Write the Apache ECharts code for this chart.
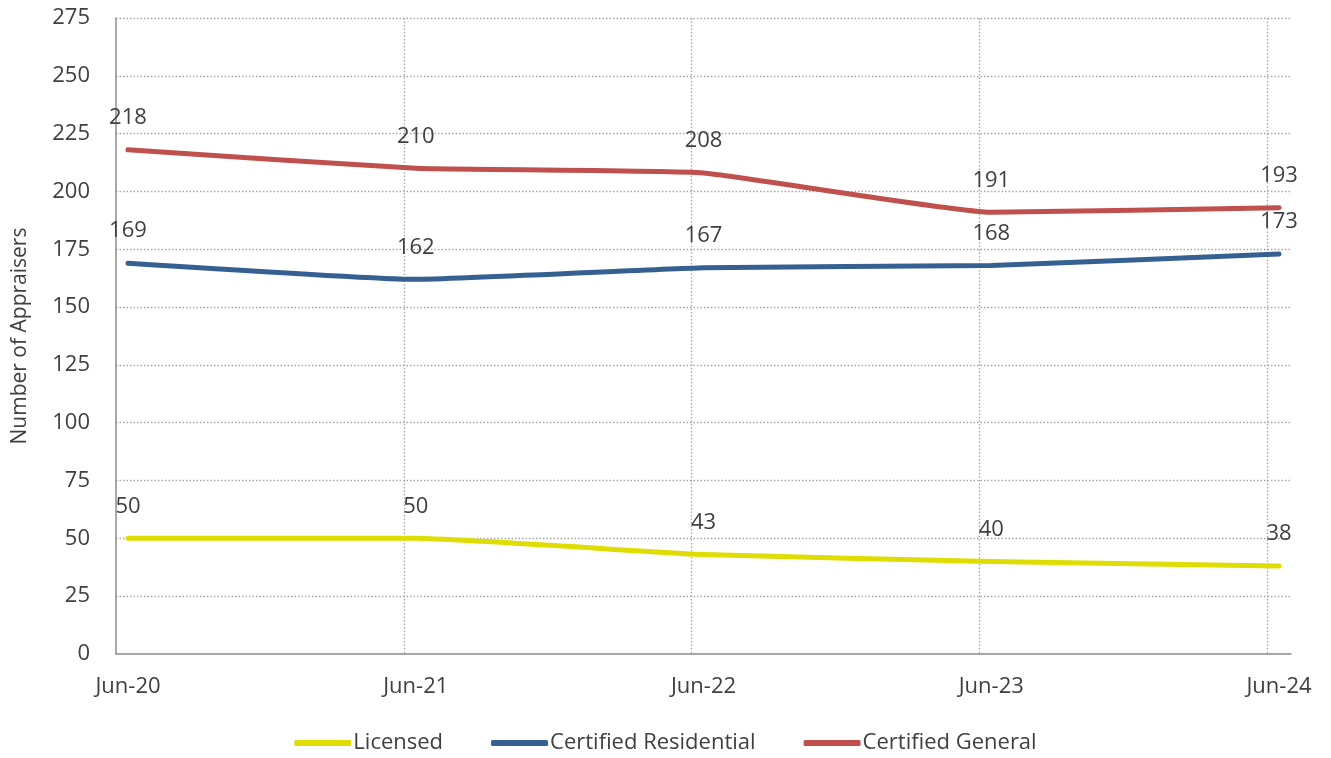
<!DOCTYPE html>
<html>
<head>
<meta charset="utf-8">
<script src="https://cdn.jsdelivr.net/npm/echarts@6/dist/echarts.min.js"></script>
<style>html,body{margin:0;padding:0;background:#fff;}#c{width:1331px;height:758px;}</style>
</head>
<body>
<div id="c"></div>
<script>
// Data
const periods = ['Jun-20', 'Jun-21', 'Jun-22', 'Jun-23', 'Jun-24'];
const licensed = [50, 50, 43, 40, 38];
const certifiedResidential = [169, 162, 167, 168, 173];
const certifiedGeneral = [218, 210, 208, 191, 193];
const yTicks = [0, 25, 50, 75, 100, 125, 150, 175, 200, 225, 250, 275];

// months since 1 Jun 2020; observations fall mid-June each year
const monthPos = periods.map((p, i) => i * 12 + 0.5);
const pairs = arr => arr.map((v, i) => [monthPos[i], v]);

const FONT = 'Open Sans';
const TXT = '#404040';
const chart = echarts.init(document.getElementById('c'), null, {renderer: 'canvas'});

function mkSeries(name, data, color) {
  return {
    name, type: 'line', data: pairs(data),
    smooth: 0.12,
    symbol: 'circle', symbolSize: 2, showSymbol: true,
    itemStyle: {color},
    lineStyle: {color, width: 5, cap: 'round', join: 'round'},
    label: {show: true, position: 'top', distance: 20, color: TXT, fontFamily: FONT, fontSize: 22},
    emphasis: {disabled: true},
    animation: false
  };
}

chart.setOption({
  animation: false,
  grid: {left: 116, right: 40, top: 18, bottom: 104, containLabel: false},
  legend: {
    top: 727, left: 'center',
    icon: 'roundRect', itemWidth: 57, itemHeight: 6, itemGap: 48,
    textStyle: {color: TXT, fontFamily: FONT, fontSize: 22, padding: [0, 0, 0, -3]},
    data: ['Licensed', 'Certified Residential', 'Certified General']
  },
  xAxis: {
    type: 'value', min: 0, max: 49, interval: 12,
    axisLine: {show: true, lineStyle: {color: '#8c8c8c', width: 1.5}},
    axisTick: {show: false},
    axisLabel: {
      customValues: monthPos,
      formatter: v => periods[monthPos.indexOf(v)] || '',
      color: TXT, fontFamily: FONT, fontSize: 22, margin: 22
    },
    splitLine: {show: true, showMinLine: false, showMaxLine: false,
      lineStyle: {color: '#a6a6a6', width: 1.3, type: [1.5, 2]}}
  },
  yAxis: {
    type: 'value', min: yTicks[0], max: yTicks[yTicks.length - 1], interval: 25,
    name: 'Number of Appraisers', nameLocation: 'middle', nameGap: 85,
    nameTextStyle: {color: TXT, fontFamily: FONT, fontSize: 21},
    axisLine: {show: true, lineStyle: {color: '#8c8c8c', width: 1.5}},
    axisTick: {show: false},
    axisLabel: {color: TXT, fontFamily: FONT, fontSize: 22, margin: 26},
    splitLine: {show: true, showMinLine: false,
      lineStyle: {color: '#a6a6a6', width: 1.3, type: [1.5, 2]}}
  },
  series: [
    mkSeries('Licensed', licensed, '#dfdc00'),
    mkSeries('Certified Residential', certifiedResidential, '#376092'),
    mkSeries('Certified General', certifiedGeneral, '#c0504d')
  ]
});
</script>
</body>
</html>
